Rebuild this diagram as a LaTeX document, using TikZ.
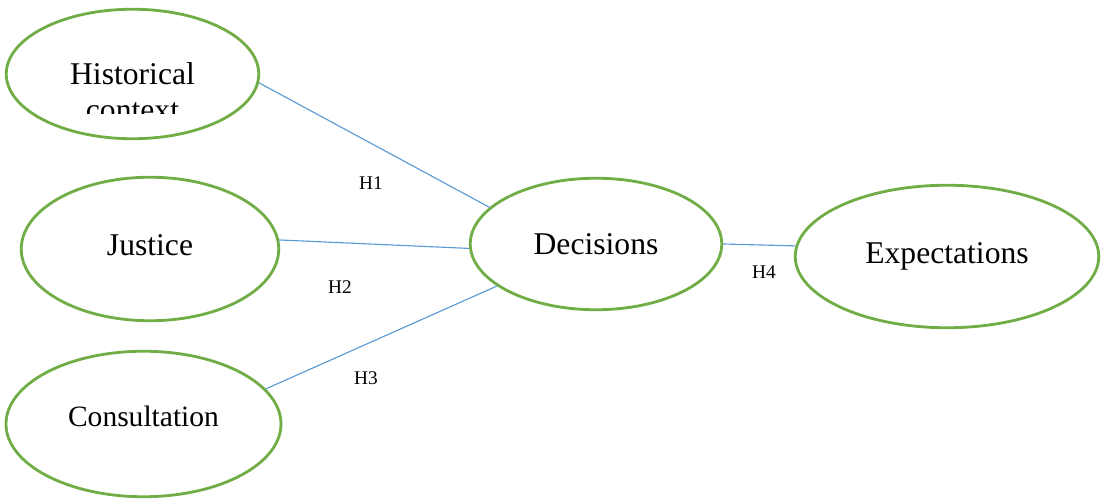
\documentclass[tikz,border=0pt]{standalone}
\usepackage{fontspec}
\setmainfont{Liberation Serif}
\usepackage{tikz}
\usetikzlibrary{shapes.geometric}
\definecolor{ovalgreen}{RGB}{112,173,71}
\definecolor{linkblue}{RGB}{91,155,213}

\begin{document}
\begin{tikzpicture}[every node/.style={font=\fontsize{18}{21}\selectfont},
  oval/.style={ellipse,draw=ovalgreen,line width=1.6pt,inner sep=0pt},
  link/.style={draw=linkblue,line width=0.65pt},
  hyp/.style={font=\fontsize{11}{13}\selectfont}]
\useasboundingbox (0,0) rectangle (22.02,10);
\node[oval,minimum width=5.05cm,minimum height=2.59cm] (hist) at (2.65,8.52) {};
\begin{scope}
\clip (0,7.73) rectangle (6,10);
\node[align=center,anchor=base,inner sep=0pt] (histtext) at (2.65,7.58) {Historical\\context};
\end{scope}
\node[oval,minimum width=5.15cm,minimum height=2.87cm,text depth=0.16cm] (just) at (3.0,5.02) {Justice};
\node[oval,minimum width=5.5cm,minimum height=2.91cm,text depth=0.3cm,
  font=\fontsize{16.8}{20}\selectfont] (cons) at (2.87,1.52) {Consultation};
\node[oval,minimum width=5.03cm,minimum height=2.63cm] (dec) at (11.92,5.12) {Decisions};
\node[oval,minimum width=6.07cm,minimum height=2.85cm] (exp) at (18.94,4.87) {Expectations};
\draw[link] (hist.-4.5) -- (dec.161);
\draw[link] (just.4) -- (dec.182);
\draw[link] (cons.16) -- (dec.203);
\draw[link] (dec.0) -- (exp.176);
\node[hyp] (h1) at (7.42,6.34) {H1};
\node[hyp] (h2) at (6.80,4.26) {H2};
\node[hyp] (h3) at (7.32,2.44) {H3};
\node[hyp] (h4) at (15.28,4.56) {H4};
\end{tikzpicture}
\end{document}
